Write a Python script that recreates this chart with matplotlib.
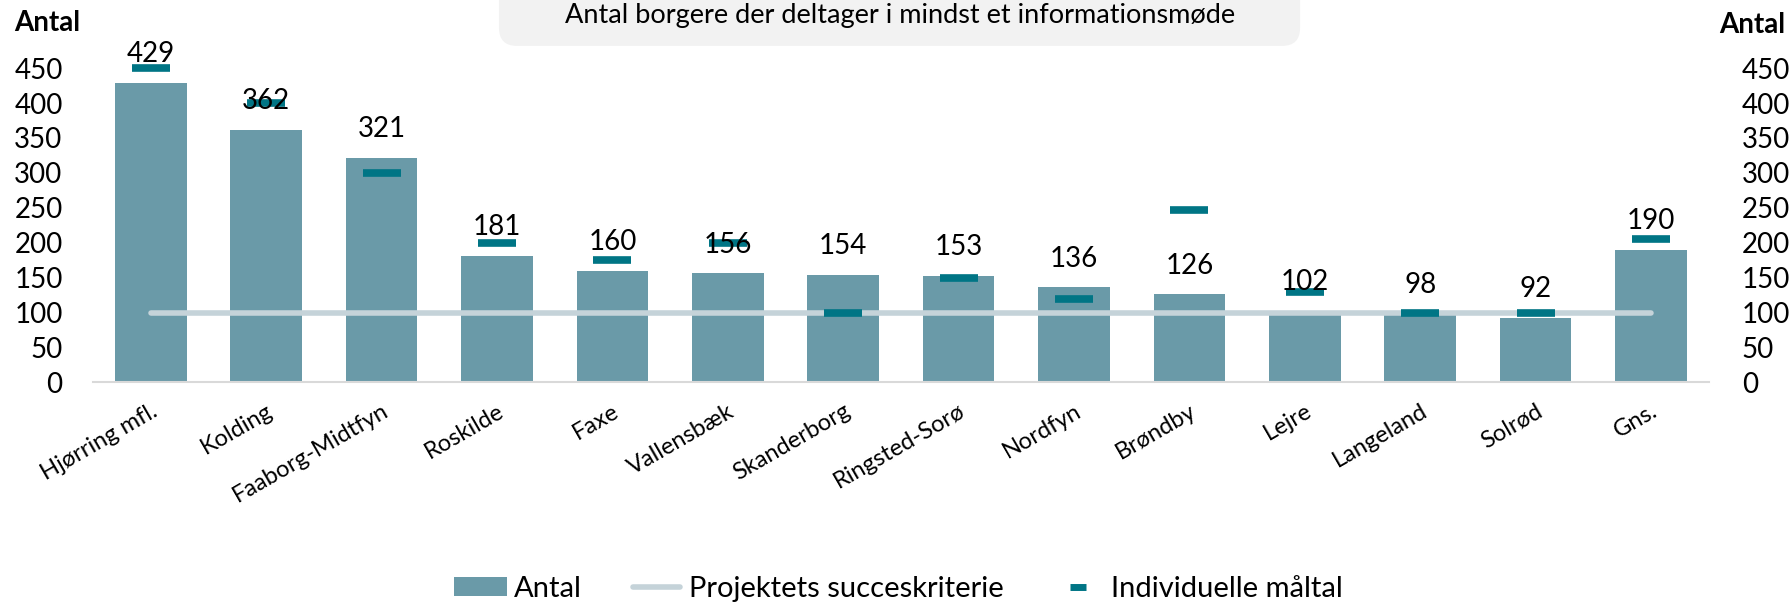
import matplotlib
matplotlib.use("Agg")
import matplotlib.pyplot as plt
from matplotlib.patches import FancyBboxPatch, Patch
from matplotlib.lines import Line2D

plt.rcParams['font.family'] = ['Lato', 'DejaVu Sans']

kommuner = ['Hjørring mfl.', 'Kolding', 'Faaborg-Midtfyn', 'Roskilde', 'Faxe',
            'Vallensbæk', 'Skanderborg', 'Ringsted-Sorø', 'Nordfyn', 'Brøndby',
            'Lejre', 'Langeland', 'Solrød', 'Gns.']
antal = [429, 362, 321, 181, 160, 156, 154, 153, 136, 126, 102, 98, 92, 190]
maaltal = [450, 400, 300, 200, 175, 200, 100, 150, 120, 247, 130, 100, 100, 205]
succes = 100
yticks = [0, 50, 100, 150, 200, 250, 300, 350, 400, 450]

bar_color = '#6a9aa8'
mark_color = '#007585'
line_color = '#c5d3d9'

fig = plt.figure(figsize=(17.91, 6.04), dpi=100)
ax = fig.add_axes([0.052, 0.367, 0.902, 0.578])

x = list(range(len(kommuner)))
ax.bar(x, antal, width=0.62, color=bar_color, zorder=2)
ax.plot([x[0], x[-1]], [succes, succes], color=line_color, lw=4,
        solid_capstyle='round', zorder=3)
ax.plot(x, maaltal, linestyle='none', marker='_', markersize=27,
        markeredgewidth=5.5, color=mark_color, zorder=4)

# værdier over søjlerne
for xi, v in zip(x, antal):
    ax.annotate(str(v), (xi, v), xytext=(0, 15), textcoords='offset points',
                ha='center', va='baseline', fontsize=20, zorder=5)

ax.set_xlim(-0.5, len(kommuner) - 0.5)
ax.set_ylim(0, 500)
ax.set_yticks(yticks)
ax.set_xticks(x)
ax.set_xticklabels(kommuner, rotation=30, ha='right', rotation_mode='anchor', fontsize=17)
ax.tick_params(axis='x', length=0, pad=13)
ax.tick_params(axis='y', length=0, labelsize=20, pad=22)
for s in ['top', 'right', 'left']:
    ax.spines[s].set_visible(False)
ax.spines['bottom'].set_color('#d9d9d9')
ax.spines['bottom'].set_linewidth(1.5)

ax2 = ax.twinx()
ax2.set_ylim(ax.get_ylim())
ax2.set_yticks(yticks)
ax2.tick_params(axis='y', length=0, labelsize=20, pad=24)
for s in ax2.spines.values():
    s.set_visible(False)

fig.text(0.008, 0.962, 'Antal', fontsize=20, fontweight='bold', va='center', ha='left')
fig.text(0.997, 0.959, 'Antal', fontsize=20, fontweight='bold', va='center', ha='right')

box = FancyBboxPatch((0.2786, 0.924), 0.4473, 0.12, transform=fig.transFigure,
                     boxstyle='round,pad=0,rounding_size=0.01',
                     facecolor='#f2f2f2', edgecolor='none', mutation_aspect=3)
fig.patches.append(box)
fig.text(0.5025, 0.975, 'Antal borgere der deltager i mindst et informationsmøde',
         fontsize=19.5, ha='center', va='center')

# legende: tre separate elementer placeret som i originalen
W = 1791.0
legend_items = [
    (Patch(facecolor=bar_color, label='Antal'), 454, 1.82, 0.24),
    (Line2D([0], [0], color=line_color, lw=4, solid_capstyle='round',
            label='Projektets succeskriterie'), 633, 1.6, 0.32),
    (Line2D([0], [0], linestyle='none', marker='_', markersize=11,
            markeredgewidth=5, color=mark_color, label='Individuelle måltal'), 1063, 1.0, 0.64),
]
for h, left, hl, pad in legend_items:
    fig.legend(handles=[h], loc='center left', bbox_to_anchor=(left / W, 0.025),
               frameon=False, fontsize=21, handlelength=hl, handleheight=0.6,
               handletextpad=pad, borderpad=0, borderaxespad=0)

fig.savefig('out.png', dpi=100)
